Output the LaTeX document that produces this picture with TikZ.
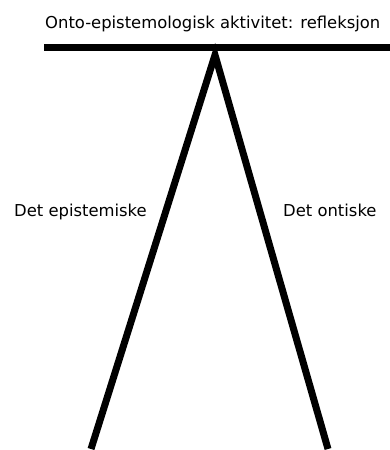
\documentclass[tikz,border=0pt]{standalone}
\usepackage{fontspec}
\setmainfont{DejaVu Sans}
\usetikzlibrary{positioning}

\begin{document}
\begin{tikzpicture}[
  x=1pt, y=-1pt,
  line join=miter,
  every node/.style={font=\fontsize{16.4}{19}\selectfont, inner sep=0pt},
  thickline/.style={line width=7pt, black}
]
  \useasboundingbox (0,0) rectangle (390,450);

  \coordinate (barL) at ( 44,47.5);
  \coordinate (barR) at (390,47.5);
  \coordinate (apex) at (215,55);
  \coordinate (footL) at ( 91,449);
  \coordinate (footR) at (328,449);

  % Top bar and the two legs
  \draw[thickline] (barL) -- (barR);
  \draw[thickline] (footL) -- (apex) -- (footR);

  % Labels
  \node[anchor=base west] (title) at ( 45,28) {Onto-epistemologisk aktivitet: refleksjon};
  \node[anchor=base west] (epist) at ( 14,216) {Det epistemiske};
  \node[anchor=base west] (ont)   at (283,216) {Det ontiske};
\end{tikzpicture}
\end{document}
